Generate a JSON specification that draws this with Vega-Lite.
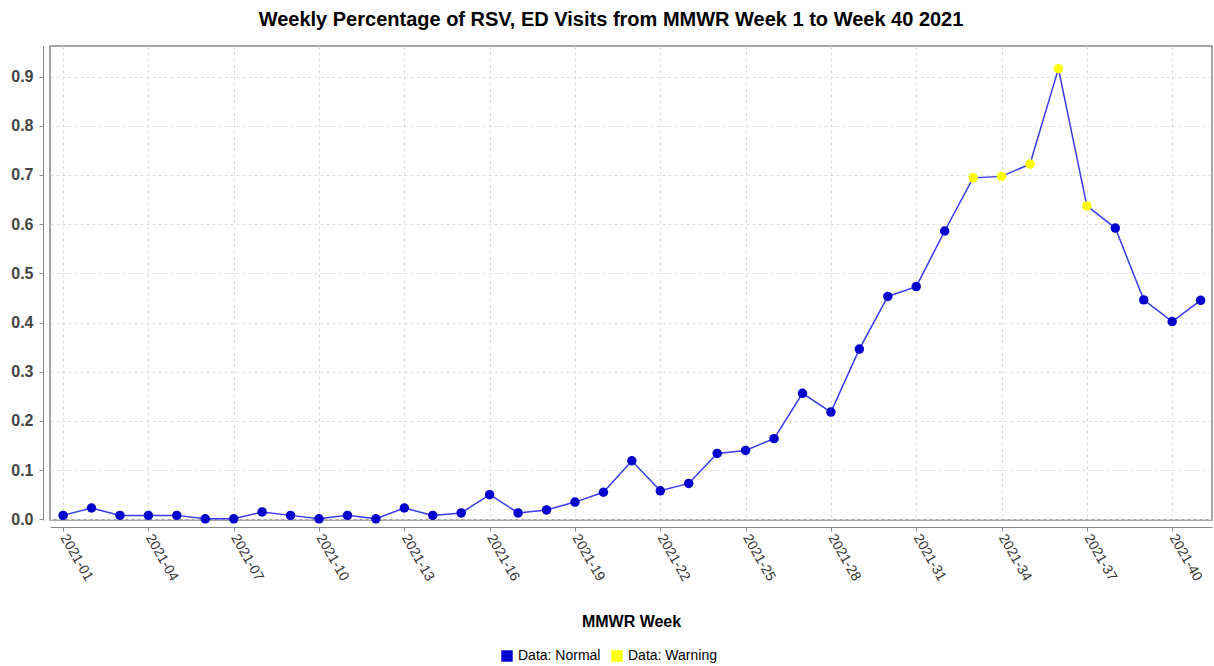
{
  "$schema": "https://vega.github.io/schema/vega-lite/v6.json",
  "width": 1162,
  "height": 474,
  "autosize": {"type": "none"},
  "padding": {"left": 50, "top": 46, "right": 2, "bottom": 146},
  "background": "white",
  "title": {
    "text": "Weekly Percentage of RSV, ED Visits from MMWR Week 1 to Week 40 2021",
    "font": "Liberation Sans",
    "fontSize": 20,
    "fontWeight": "bold",
    "color": "#000000",
    "anchor": "middle",
    "dx": -20,
    "offset": 16
  },
  "config": {
    "view": {"stroke": "#888888", "strokeWidth": 1.5},
    "axis": {"domainColor": "#888888", "tickColor": "#888888", "gridColor": "#dddddd", "gridDash": [3, 3]}
  },
  "data": {
    "values": [
      {"week": 1, "pct": 0.008, "status": "Normal"},
      {"week": 2, "pct": 0.023, "status": "Normal"},
      {"week": 3, "pct": 0.008, "status": "Normal"},
      {"week": 4, "pct": 0.008, "status": "Normal"},
      {"week": 5, "pct": 0.008, "status": "Normal"},
      {"week": 6, "pct": 0.001, "status": "Normal"},
      {"week": 7, "pct": 0.001, "status": "Normal"},
      {"week": 8, "pct": 0.015, "status": "Normal"},
      {"week": 9, "pct": 0.008, "status": "Normal"},
      {"week": 10, "pct": 0.001, "status": "Normal"},
      {"week": 11, "pct": 0.008, "status": "Normal"},
      {"week": 12, "pct": 0.001, "status": "Normal"},
      {"week": 13, "pct": 0.023, "status": "Normal"},
      {"week": 14, "pct": 0.008, "status": "Normal"},
      {"week": 15, "pct": 0.013, "status": "Normal"},
      {"week": 16, "pct": 0.05, "status": "Normal"},
      {"week": 17, "pct": 0.013, "status": "Normal"},
      {"week": 18, "pct": 0.019, "status": "Normal"},
      {"week": 19, "pct": 0.035, "status": "Normal"},
      {"week": 20, "pct": 0.055, "status": "Normal"},
      {"week": 21, "pct": 0.119, "status": "Normal"},
      {"week": 22, "pct": 0.058, "status": "Normal"},
      {"week": 23, "pct": 0.073, "status": "Normal"},
      {"week": 24, "pct": 0.134, "status": "Normal"},
      {"week": 25, "pct": 0.14, "status": "Normal"},
      {"week": 26, "pct": 0.164, "status": "Normal"},
      {"week": 27, "pct": 0.256, "status": "Normal"},
      {"week": 28, "pct": 0.218, "status": "Normal"},
      {"week": 29, "pct": 0.346, "status": "Normal"},
      {"week": 30, "pct": 0.453, "status": "Normal"},
      {"week": 31, "pct": 0.473, "status": "Normal"},
      {"week": 32, "pct": 0.586, "status": "Normal"},
      {"week": 33, "pct": 0.694, "status": "Warning"},
      {"week": 34, "pct": 0.697, "status": "Warning"},
      {"week": 35, "pct": 0.722, "status": "Warning"},
      {"week": 36, "pct": 0.916, "status": "Warning"},
      {"week": 37, "pct": 0.637, "status": "Warning"},
      {"week": 38, "pct": 0.592, "status": "Normal"},
      {"week": 39, "pct": 0.446, "status": "Normal"},
      {"week": 40, "pct": 0.402, "status": "Normal"},
      {"week": 41, "pct": 0.445, "status": "Normal"}
    ]
  },
  "encoding": {
    "x": {
      "field": "week",
      "type": "quantitative",
      "scale": {"domain": [0.54, 41.4], "nice": false, "zero": false},
      "axis": {
        "values": [1, 4, 7, 10, 13, 16, 19, 22, 25, 28, 31, 34, 37, 40],
        "labelExpr": "'2021-' + (datum.value < 10 ? '0' : '') + datum.value",
        "labelAngle": 60,
        "labelAlign": "left",
        "labelBaseline": "middle",
        "labelFont": "Liberation Sans",
        "labelFontSize": 14,
        "labelColor": "#333333",
        "labelPadding": 4,
        "offset": 7,
        "tickSize": 4,
        "grid": true,
        "title": "MMWR Week",
        "titleFont": "Liberation Sans",
        "titleFontSize": 16,
        "titleFontWeight": "bold",
        "titleColor": "#000000",
        "titlePadding": 31
      }
    },
    "y": {
      "field": "pct",
      "type": "quantitative",
      "scale": {"domain": [-0.0014, 0.962], "nice": false, "zero": false},
      "axis": {
        "values": [0, 0.1, 0.2, 0.3, 0.4, 0.5, 0.6, 0.7, 0.8, 0.9],
        "format": ".1f",
        "labelFont": "Liberation Sans",
        "labelFontSize": 16,
        "labelFontWeight": "bold",
        "labelColor": "#444444",
        "labelPadding": 6,
        "offset": 7,
        "tickSize": 4,
        "grid": true,
        "title": null
      }
    }
  },
  "layer": [
    {
      "mark": {"type": "line", "color": "#3a3aee", "strokeWidth": 1.5}
    },
    {
      "mark": {"type": "circle", "size": 90, "opacity": 1},
      "encoding": {
        "color": {
          "field": "status",
          "type": "nominal",
          "scale": {"domain": ["Normal", "Warning"], "range": ["#0000cc", "#ffff00"]},
          "legend": {
            "orient": "none",
            "direction": "horizontal",
            "legendX": 450,
            "legendY": 603,
            "title": null,
            "symbolType": "square",
            "symbolSize": 130,
            "symbolStrokeWidth": 0,
            "labelExpr": "'Data: ' + datum.label",
            "labelFont": "Liberation Sans",
            "labelFontSize": 14,
            "labelColor": "#000000",
            "columnPadding": 9,
            "labelOffset": 4
          }
        }
      }
    }
  ]
}
